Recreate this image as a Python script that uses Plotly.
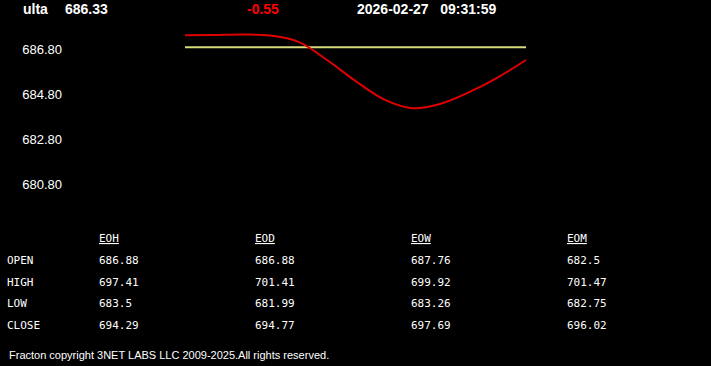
import plotly.graph_objects as go

# ---- data ----
symbol = "ulta"
last_price = "686.33"
change = "-0.55"
timestamp = "2026-02-27   09:31:59"

steps = list(range(13))
price = [687.41, 687.42, 687.44, 687.40, 687.12, 686.31, 685.38,
         684.56, 684.17, 684.37, 684.88, 685.53, 686.31]
prev_close = [686.88] * 13

y_ticks = [686.80, 684.80, 682.80, 680.80]

col_headers = ["EOH", "EOD", "EOW", "EOM"]
row_labels = ["OPEN", "HIGH", "LOW", "CLOSE"]
table_values = [
    ["686.88", "686.88", "687.76", "682.5"],
    ["697.41", "701.41", "699.92", "701.47"],
    ["683.5", "681.99", "683.26", "682.75"],
    ["694.29", "694.77", "697.69", "696.02"],
]
footer = "Fracton copyright 3NET LABS LLC 2009-2025.All rights reserved."

# ---- layout geometry ----
W, H = 711, 366
plot_left, plot_right = 63, 540
plot_top, plot_bot = 25, 200
data_x0, data_x1 = 185, 526
pxu = (data_x1 - data_x0) / (steps[-1] - steps[0])
xr = [steps[0] - (data_x0 - plot_left) / pxu, steps[-1] + (plot_right - data_x1) / pxu]
ypx = 22.5  # pixels per price unit
ref_y_px = 49
yr = [y_ticks[0] - (plot_bot - ref_y_px) / ypx, y_ticks[0] + (ref_y_px - plot_top) / ypx]

fig = go.Figure()
fig.add_trace(go.Scatter(x=steps, y=prev_close, mode="lines",
                         line=dict(color="#d6dc7a", width=2), hoverinfo="skip"))
fig.add_trace(go.Scatter(x=steps, y=price, mode="lines",
                         line=dict(color="#e00000", width=2, shape="spline", smoothing=1.0),
                         hoverinfo="skip"))

fig.update_layout(
    width=W, height=H,
    margin=dict(l=0, r=0, t=0, b=0),
    paper_bgcolor="black", plot_bgcolor="black",
    showlegend=False,
    xaxis=dict(domain=[plot_left / W, plot_right / W], range=xr, visible=False),
    yaxis=dict(domain=[1 - plot_bot / H, 1 - plot_top / H], range=yr,
               tickvals=y_ticks, ticktext=[f"{v:.2f}" for v in y_ticks],
               showgrid=False, zeroline=False, showline=False, ticks="",
               tickfont=dict(family="Liberation Sans, Arial", size=13, color="white")),
)

def px_ann(text, x, y, size, color="white", bold=False, family="Liberation Sans, Arial", xanchor="left"):
    fig.add_annotation(text=f"<b>{text}</b>" if bold else text,
                       x=x / W, y=1 - y / H, xref="paper", yref="paper",
                       xanchor=xanchor, yanchor="middle", showarrow=False,
                       font=dict(family=family, size=size, color=color))

# header
px_ann(symbol, 21, 9, 14, bold=True)
px_ann(last_price, 63, 9, 14, bold=True)
px_ann(change, 245, 9, 14, color="#ff0000", bold=True)
px_ann(timestamp, 355, 9, 14, bold=True)

# table
mono = "DejaVu Sans Mono, Consolas, monospace"
col_x = [97, 253, 409, 565]
row_y = [239, 260, 282, 303, 325]
for cx, h in zip(col_x, col_headers):
    px_ann(f"<u>{h}</u>", cx, row_y[0], 11, family=mono)
for ry, lab, vals in zip(row_y[1:], row_labels, table_values):
    px_ann(lab, 5, ry, 11, family=mono)
    for cx, v in zip(col_x, vals):
        px_ann(v, cx, ry, 11, family=mono)

# footer
px_ann(footer, 7, 355, 11)

fig.write_html("out.html")
